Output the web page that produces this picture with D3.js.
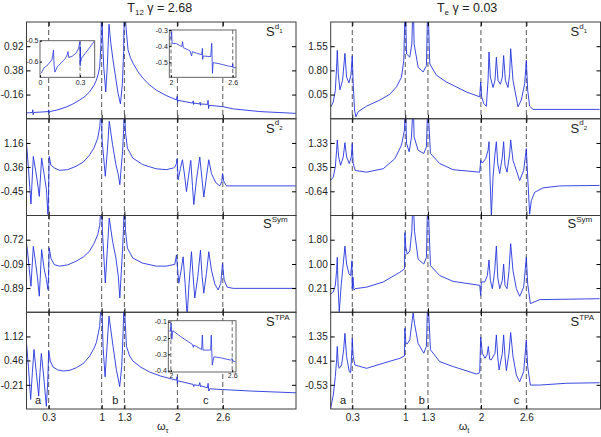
<!DOCTYPE html>
<html>
<head>
<meta charset="utf-8">
<title>S spectra T12 / Te</title>
<script src="https://d3js.org/d3.v7.min.js"></script>
<style>
body { margin: 0; background: #fff; }
text { font-family: "Liberation Sans", Arial, Helvetica, sans-serif; fill: #222; }
</style>
</head>
<body>
<script>
// ---- data ----
const omegaTicks = [0.3, 1, 1.3, 2, 2.6];
const panelNames = ["d1", "d2", "Sym", "TPA"];
const leftYTicks = [[0.92, 0.38, -0.16], [1.16, 0.36, -0.45], [0.72, -0.09, -0.89], [1.12, 0.46, -0.21]];
const rightYTicks = [[1.55, 0.80, 0.05], [1.33, 0.35, -0.64], [1.80, 1.00, 0.21], [1.35, 0.41, -0.53]];

// left column, T12, gamma = 2.68
const leftSd1 = [[0.005,-0.57],[0.05,-0.565],[0.085,-0.56],[0.09,-0.5],[0.095,-0.61],[0.1,-0.56],[0.2,-0.55],[0.295,-0.54],[0.3,-0.5],[0.305,-0.58],[0.31,-0.54],[0.4,-0.51],[0.53,-0.44],[0.62,-0.37],[0.71,-0.28],[0.78,-0.2],[0.84,-0.1],[0.9,0.05],[0.93,0.16],[0.955,0.3],[0.974,0.46],[0.99,0.95],[0.998,1.8],[1.004,1.8],[1.012,1.1],[1.027,0.46],[1.054,-0.1],[1.075,0.5],[1.097,1.41],[1.12,1.0],[1.15,0.61],[1.216,-0.13],[1.248,-0.37],[1.274,0.09],[1.29,0.8],[1.298,1.8],[1.304,1.8],[1.32,1.37],[1.348,0.84],[1.38,0.66],[1.414,0.54],[1.48,0.35],[1.547,0.2],[1.63,0.06],[1.72,-0.06],[1.85,-0.18],[1.99,-0.28],[1.998,-0.2],[2.003,-0.33],[2.01,-0.29],[2.2,-0.35],[2.21,-0.3],[2.215,-0.38],[2.22,-0.35],[2.295,-0.37],[2.3,-0.33],[2.305,-0.4],[2.31,-0.37],[2.4,-0.38],[2.405,-0.29],[2.412,-0.47],[2.42,-0.4],[2.6,-0.43],[2.74,-0.48],[3.09,-0.54],[3.565,-0.58]];
const leftSd2 = [[0.007,1.16],[0.02,0.75],[0.066,-0.87],[0.097,0.71],[0.13,0.21],[0.15,-0.12],[0.176,-0.62],[0.207,0.66],[0.24,0.11],[0.27,-0.39],[0.29,-1.22],[0.298,-0.6],[0.307,0.71],[0.33,0.42],[0.374,0.33],[0.441,0.25],[0.55,0.27],[0.66,0.38],[0.76,0.53],[0.838,0.75],[0.9,1.0],[0.948,1.32],[0.975,1.7],[0.992,2.3],[1.0,2.3],[1.004,1.32],[1.048,0.05],[1.075,0.9],[1.1,1.88],[1.144,1.1],[1.188,0.44],[1.22,0.1],[1.24,-0.23],[1.276,0.88],[1.29,1.6],[1.298,2.3],[1.303,2.3],[1.315,1.5],[1.34,0.99],[1.41,0.66],[1.54,0.44],[1.72,0.3],[1.855,0.27],[1.95,0.33],[1.966,0.36],[1.988,0.47],[1.996,0.63],[2.01,-0.07],[2.04,0.31],[2.067,0.6],[2.098,0.03],[2.12,-0.46],[2.146,0.03],[2.177,0.58],[2.2,-0.29],[2.217,-0.89],[2.252,-0.07],[2.296,0.69],[2.331,-0.18],[2.349,-0.64],[2.384,0.03],[2.415,0.6],[2.45,0.14],[2.507,-0.16],[2.56,-0.27],[2.587,-0.13],[2.596,0.14],[2.614,-0.13],[2.649,-0.27],[3.565,-0.27]];
const leftSsym = [[0.007,0.6],[0.02,0.35],[0.066,-0.83],[0.097,0.5],[0.13,-0.1],[0.15,-0.5],[0.176,-1.16],[0.207,0.39],[0.24,-0.25],[0.27,-0.6],[0.29,-0.94],[0.298,-0.5],[0.307,0.45],[0.33,0.1],[0.374,-0.11],[0.441,-0.16],[0.55,-0.12],[0.66,0.0],[0.76,0.15],[0.838,0.33],[0.9,0.6],[0.948,0.89],[0.975,1.2],[0.992,1.9],[1.0,1.9],[1.01,1.0],[1.048,-0.72],[1.075,0.4],[1.1,1.44],[1.144,0.67],[1.188,0.11],[1.22,-0.5],[1.24,-1.22],[1.276,0.4],[1.29,1.2],[1.298,1.9],[1.303,1.9],[1.315,1.0],[1.34,0.44],[1.41,0.11],[1.54,-0.06],[1.72,-0.16],[1.855,-0.16],[1.966,-0.1],[1.988,0.21],[2.019,-0.73],[2.05,-0.29],[2.076,0.15],[2.102,-0.73],[2.129,-1.83],[2.155,-0.73],[2.186,0.32],[2.208,-0.51],[2.23,-1.22],[2.27,-0.51],[2.305,0.37],[2.327,-0.51],[2.349,-1.06],[2.384,-0.4],[2.415,0.32],[2.45,-0.29],[2.494,-0.75],[2.538,-0.95],[2.574,-0.73],[2.596,-0.07],[2.618,-0.62],[2.658,-0.86],[2.737,-0.9],[3.565,-0.9]];
const leftStpa = [[0.005,0.99],[0.032,0.3],[0.062,-0.61],[0.084,0.12],[0.106,0.76],[0.137,0.12],[0.168,-0.52],[0.185,0.12],[0.203,0.65],[0.234,0.03],[0.269,-0.8],[0.287,-0.15],[0.3,0.72],[0.322,0.44],[0.357,0.28],[0.42,0.2],[0.49,0.17],[0.58,0.19],[0.666,0.26],[0.76,0.38],[0.842,0.58],[0.9,0.8],[0.93,0.95],[0.974,1.4],[0.994,2.1],[1.002,2.1],[1.018,0.85],[1.045,0.01],[1.071,0.85],[1.097,1.68],[1.15,0.85],[1.194,0.21],[1.238,-0.26],[1.265,0.3],[1.283,1.22],[1.294,2.1],[1.302,2.1],[1.309,1.59],[1.327,0.85],[1.37,0.58],[1.415,0.44],[1.52,0.27],[1.636,0.14],[1.78,0.03],[1.943,-0.06],[1.992,-0.08],[1.996,0.01],[2.0,-0.17],[2.005,-0.1],[2.208,-0.2],[2.217,-0.26],[2.222,-0.21],[2.287,-0.23],[2.296,-0.15],[2.305,-0.26],[2.31,-0.24],[2.397,-0.29],[2.406,-0.17],[2.415,-0.38],[2.428,-0.32],[2.596,-0.34],[2.957,-0.38],[3.565,-0.43]];

// right column, Te, gamma = 0.03
const rightSd1 = [[0.014,-0.35],[0.049,-0.18],[0.076,0.18],[0.093,0.9],[0.102,1.42],[0.115,0.7],[0.137,0.2],[0.172,0.49],[0.203,1.33],[0.225,0.59],[0.256,0.41],[0.282,0.65],[0.3,1.25],[0.312,0.39],[0.33,-0.43],[0.348,-0.64],[0.379,-0.48],[0.489,-0.31],[0.665,-0.12],[0.797,0.06],[0.885,0.29],[0.95,0.59],[0.981,1.11],[0.996,2.7],[1.004,2.7],[1.017,1.31],[1.06,1.21],[1.087,1.62],[1.1,2.7],[1.108,2.7],[1.117,1.62],[1.17,0.9],[1.236,0.75],[1.28,0.95],[1.295,2.7],[1.303,2.7],[1.324,1.0],[1.412,0.65],[1.544,0.44],[1.808,0.13],[1.984,-0.02],[1.997,0.44],[2.01,-0.02],[2.037,-0.23],[2.072,-0.31],[2.094,0.49],[2.107,1.37],[2.125,0.59],[2.16,0.27],[2.186,0.49],[2.204,1.21],[2.226,0.49],[2.257,0.37],[2.283,0.59],[2.3,1.26],[2.323,0.49],[2.358,0.27],[2.38,0.7],[2.393,1.47],[2.424,0.49],[2.49,-0.33],[2.534,-0.12],[2.578,0.39],[2.6,1.11],[2.618,0.18],[2.644,-0.31],[2.688,-0.41],[3.567,-0.41]];
const rightSd2 = [[0.014,-0.2],[0.049,-0.06],[0.076,0.35],[0.093,1.03],[0.102,1.45],[0.12,0.76],[0.146,0.42],[0.181,0.76],[0.203,1.34],[0.225,0.76],[0.26,0.49],[0.287,0.76],[0.3,1.31],[0.312,0.49],[0.339,0.21],[0.489,0.14],[0.709,0.28],[0.863,0.69],[0.95,1.24],[0.99,1.86],[0.997,2.7],[1.005,2.7],[1.017,1.31],[1.052,0.97],[1.083,1.58],[1.1,2.7],[1.108,2.7],[1.117,1.58],[1.17,1.03],[1.245,0.9],[1.28,1.17],[1.295,2.7],[1.303,2.7],[1.333,0.9],[1.456,0.49],[1.632,0.24],[1.984,0.14],[1.997,0.62],[2.019,0.51],[2.063,0.69],[2.094,1.03],[2.107,1.38],[2.12,-0.06],[2.138,-1.64],[2.16,-0.06],[2.186,0.9],[2.204,1.38],[2.222,0.49],[2.248,0.08],[2.283,0.76],[2.3,1.38],[2.318,0.42],[2.345,0.14],[2.38,0.9],[2.393,1.45],[2.424,0.62],[2.512,-0.2],[2.565,0.21],[2.6,1.1],[2.618,-0.06],[2.644,-1.57],[2.666,-1.02],[2.71,-0.68],[2.82,-0.5],[3.04,-0.42],[3.567,-0.4]];
const rightSsym = [[0.014,0.01],[0.049,0.08],[0.076,0.3],[0.093,0.78],[0.102,1.22],[0.111,0.35],[0.128,-0.57],[0.155,0.35],[0.181,1.0],[0.203,1.59],[0.225,1.0],[0.256,0.68],[0.278,0.62],[0.296,1.11],[0.3,0.19],[0.309,0.57],[0.322,0.14],[0.339,0.19],[0.489,0.24],[0.709,0.41],[0.929,0.73],[0.99,0.84],[0.995,2.03],[1.008,1.54],[1.026,1.32],[1.06,1.43],[1.087,2.08],[1.1,3.0],[1.108,3.0],[1.122,2.08],[1.17,1.16],[1.245,1.0],[1.28,1.22],[1.295,3.0],[1.303,3.0],[1.333,0.95],[1.456,0.62],[1.632,0.43],[1.984,0.3],[1.997,-0.03],[2.006,0.41],[2.05,0.41],[2.085,0.62],[2.107,1.13],[2.125,0.46],[2.151,0.19],[2.182,0.78],[2.204,1.59],[2.222,0.57],[2.248,0.19],[2.283,0.46],[2.3,1.0],[2.318,0.3],[2.345,0.19],[2.371,0.78],[2.393,1.67],[2.424,0.78],[2.468,0.19],[2.512,-0.06],[2.565,0.24],[2.6,1.22],[2.618,0.35],[2.653,-0.3],[2.776,-0.17],[3.567,-0.14]];
const rightStpa = [[0.014,-1.45],[0.049,-0.93],[0.076,-0.21],[0.093,0.44],[0.102,0.96],[0.115,0.24],[0.128,0.11],[0.159,0.24],[0.186,0.83],[0.203,1.47],[0.225,0.57],[0.26,-0.02],[0.278,-0.06],[0.296,0.83],[0.3,1.28],[0.312,0.57],[0.335,0.24],[0.489,0.11],[0.709,0.31],[0.929,0.5],[0.99,0.59],[0.995,1.67],[1.008,1.08],[1.026,1.06],[1.06,1.22],[1.087,1.86],[1.104,2.28],[1.122,1.86],[1.17,1.08],[1.245,0.7],[1.28,0.96],[1.295,2.7],[1.303,2.7],[1.333,0.83],[1.456,0.37],[1.632,0.18],[1.94,-0.11],[1.984,-0.06],[1.997,1.32],[2.019,0.7],[2.054,0.5],[2.081,0.63],[2.098,0.96],[2.116,0.46],[2.138,0.44],[2.186,0.7],[2.204,1.41],[2.222,0.57],[2.24,0.05],[2.283,0.7],[2.3,1.41],[2.318,0.57],[2.336,0.02],[2.371,0.7],[2.393,1.5],[2.424,0.57],[2.468,-0.15],[2.512,-0.41],[2.565,-0.02],[2.6,1.22],[2.618,0.18],[2.653,-0.54],[2.776,-0.54],[3.128,-0.47],[3.567,-0.45]];

// insets (zoomed views in the left column)
const insetLowW = [[0.01,-0.655],[0.03,-0.63],[0.06,-0.615],[0.09,-0.59],[0.098,-0.56],[0.101,-0.545],[0.106,-0.62],[0.112,-0.65],[0.13,-0.625],[0.16,-0.605],[0.19,-0.585],[0.205,-0.565],[0.21,-0.552],[0.215,-0.58],[0.24,-0.575],[0.27,-0.56],[0.29,-0.535],[0.297,-0.51],[0.3,-0.505],[0.301,-0.62],[0.303,-0.53],[0.305,-0.6],[0.31,-0.585],[0.34,-0.56],[0.37,-0.535],[0.41,-0.5]];
const insetSd1 = [[1.983,-0.362],[2.0,-0.345],[2.006,-0.31],[2.01,-0.382],[2.055,-0.385],[2.104,-0.403],[2.112,-0.372],[2.12,-0.41],[2.184,-0.428],[2.2,-0.461],[2.207,-0.434],[2.25,-0.444],[2.298,-0.453],[2.305,-0.414],[2.308,-0.482],[2.312,-0.461],[2.386,-0.465],[2.396,-0.382],[2.403,-0.568],[2.41,-0.502],[2.476,-0.51],[2.557,-0.523],[2.598,-0.527],[2.6,-0.51],[2.603,-0.535],[2.63,-0.532]];
const insetStpa = [[1.985,-0.155],[1.993,-0.161],[2.003,-0.11],[2.009,-0.208],[2.019,-0.155],[2.097,-0.192],[2.21,-0.239],[2.22,-0.257],[2.225,-0.243],[2.301,-0.27],[2.308,-0.182],[2.314,-0.274],[2.389,-0.274],[2.395,-0.182],[2.405,-0.366],[2.421,-0.315],[2.486,-0.321],[2.583,-0.335],[2.6,-0.325],[2.605,-0.34],[2.63,-0.345]];

// ---- drawing ----
const width = 601, height = 437;
const plotTop = 22, plotBottom = 409;
const ph = (plotBottom - plotTop) / 4;
const blue = "#2434dc";
const frame = "#3c3c3c";
const font = "'Liberation Sans', Arial, Helvetica, sans-serif";

const svg = d3.select("body").append("svg")
    .attr("width", width)
    .attr("height", height);

function yDomain(t) {
  const d = (t[0] - t[2]) / 2;
  return [t[2] - d, t[0] + d];
}

function noDomain(a) { a.select(".domain").remove(); a.attr("font-family", font); }

function drawColumn(col) {
  const x = d3.scaleLinear().domain(col.xDomain).range(col.xRange);
  const [xa, xb] = col.xRange;
  const g = svg.append("g");

  g.selectAll("line.guide").data(omegaTicks).join("line")
      .attr("class", "guide")
      .attr("x1", d => x(d)).attr("x2", d => x(d))
      .attr("y1", plotTop).attr("y2", plotBottom)
      .attr("stroke", "#444").attr("stroke-width", 0.9)
      .attr("stroke-dasharray", "5,3");

  col.series.forEach((data, i) => {
    const top = plotTop + i * ph;
    const y = d3.scaleLinear().domain(yDomain(col.yTicks[i])).range([top + ph, top]);
    const cid = col.id + "clip" + i;
    svg.append("clipPath").attr("id", cid).append("rect")
        .attr("x", xa).attr("y", top).attr("width", xb - xa).attr("height", ph);

    g.append("path").datum(data)
        .attr("clip-path", `url(#${cid})`)
        .attr("fill", "none").attr("stroke", blue).attr("stroke-width", 0.9)
        .attr("stroke-linejoin", "round")
        .attr("d", d3.line().x(d => x(d[0])).y(d => y(d[1])));

    g.append("rect")
        .attr("x", xa).attr("y", top).attr("width", xb - xa).attr("height", ph)
        .attr("fill", "none").attr("stroke", frame).attr("stroke-width", 1);

    g.append("g").attr("transform", `translate(${xa},0)`)
        .call(d3.axisLeft(y).tickValues(col.yTicks[i]).tickFormat(d => d.toFixed(2)).tickSize(-4).tickPadding(3))
        .call(noDomain)
        .attr("font-size", 10);
    g.append("g").attr("transform", `translate(${xb},0)`)
        .call(d3.axisRight(y).tickValues(col.yTicks[i]).tickFormat("").tickSize(-4))
        .call(noDomain);
    g.append("g").attr("transform", `translate(0,${top})`)
        .call(d3.axisTop(x).tickValues(omegaTicks).tickFormat("").tickSize(-4))
        .call(noDomain);
    g.append("g").attr("transform", `translate(0,${top + ph})`)
        .call(d3.axisBottom(x).tickValues(omegaTicks)
              .tickFormat(i === 3 ? d3.format("~g") : "").tickSize(-4).tickPadding(5))
        .call(noDomain)
        .attr("font-size", 10);

    // panel name, S with superscript
    const name = panelNames[i];
    const t = g.append("text")
        .attr("x", xb - (name === "Sym" ? 33 : 30))
        .attr("y", top + (name === "Sym" ? 12.5 : 14));
    t.append("tspan").attr("font-size", 13).text("S");
    if (name[0] === "d") {
      t.append("tspan").attr("font-size", 8).attr("dy", -7.5).text("d");
      t.append("tspan").attr("font-size", 6).attr("dy", 4.5).text(name[1]);
    } else {
      t.append("tspan").attr("font-size", 8).attr("dy", -6.5).text(name);
    }
  });

  g.selectAll("text.letter").data(["a", "b", "c"]).join("text")
      .attr("class", "letter")
      .attr("x", (d, k) => x(col.letterAt[k]))
      .attr("y", 403.5)
      .attr("text-anchor", "middle")
      .attr("font-size", 11)
      .text(d => d);

  const title = g.append("text")
      .attr("x", (xa + xb) / 2 + col.titleShift).attr("y", 11.5)
      .attr("text-anchor", "middle").attr("font-size", 12.5);
  title.append("tspan").text("T");
  title.append("tspan").attr("font-size", 8).attr("dy", 3).text(col.titleSub);
  title.append("tspan").attr("dy", -3).text(" \u03b3 = " + col.gamma);

  const xl = g.append("text")
      .attr("x", (xa + xb) / 2 + col.labelShift).attr("y", 430)
      .attr("text-anchor", "middle").attr("font-size", 11);
  xl.append("tspan").text("\u03c9");
  xl.append("tspan").attr("font-size", 7.5).attr("dy", 3).text(col.axisSub);
}

function drawInset(s) {
  const [x0, x1, y0, y1] = s.box;
  const x = d3.scaleLinear().domain(s.xDomain).range([x0, x1]);
  const y = d3.scaleLinear().domain(s.yDomain).range([y1, y0]);
  const g = svg.append("g");
  g.append("rect").attr("x", x0).attr("y", y0).attr("width", x1 - x0).attr("height", y1 - y0)
      .attr("fill", "#fff");
  const cid = s.id + "clip";
  svg.append("clipPath").attr("id", cid).append("rect")
      .attr("x", x0).attr("y", y0).attr("width", x1 - x0).attr("height", y1 - y0);
  g.selectAll("line.guide").data(s.guides).join("line")
      .attr("x1", d => x(d)).attr("x2", d => x(d))
      .attr("y1", y0).attr("y2", y1)
      .attr("stroke", "#444").attr("stroke-width", 0.8).attr("stroke-dasharray", "4,2.5");
  g.append("path").datum(s.data)
      .attr("clip-path", `url(#${cid})`)
      .attr("fill", "none").attr("stroke", blue).attr("stroke-width", 0.8)
      .attr("d", d3.line().x(d => x(d[0])).y(d => y(d[1])));
  g.append("rect").attr("x", x0).attr("y", y0).attr("width", x1 - x0).attr("height", y1 - y0)
      .attr("fill", "none").attr("stroke", "#555").attr("stroke-width", 0.9);
  g.append("g").attr("transform", `translate(${x0},0)`)
      .call(d3.axisLeft(y).tickValues(s.yTicks).tickFormat(d => String(d)).tickSize(-2).tickPadding(1.5))
      .call(noDomain).attr("font-size", 7);
  g.append("g").attr("transform", `translate(0,${y1})`)
      .call(d3.axisBottom(x).tickValues(s.xTicks).tickFormat(d3.format("~g")).tickSize(-2).tickPadding(s.xPad))
      .call(noDomain).attr("font-size", 7);
}

drawColumn({
  id: "L", xDomain: [0.007, 3.567], xRange: [26.5, 296],
  yTicks: leftYTicks, series: [leftSd1, leftSd2, leftSsym, leftStpa],
  letterAt: [0.16, 1.18, 2.375], titleSub: "12", gamma: "2.68", titleShift: -1.5,
  axisSub: "\u03c4", labelShift: 1.5
});
drawColumn({
  id: "R", xDomain: [0.015, 3.58], xRange: [330.7, 600.5],
  yTicks: rightYTicks, series: [rightSd1, rightSd2, rightSsym, rightStpa],
  letterAt: [0.18, 1.22, 2.47], titleSub: "e", gamma: "0.03", titleShift: 1.5,
  axisSub: "t", labelShift: -1.5
});

drawInset({ id: "ia", box: [40, 94.7, 40.7, 77.3], xDomain: [0, 0.41], yDomain: [-0.675, -0.5],
  xTicks: [0, 0.3], yTicks: [-0.5, -0.6], guides: [0.3], data: insetLowW, xPad: 3 });
drawInset({ id: "ib", box: [169.3, 236, 30, 77.3], xDomain: [1.983, 2.632], yDomain: [-0.593, -0.3],
  xTicks: [2, 2.6], yTicks: [-0.3, -0.4, -0.5], guides: [2, 2.6], data: insetSd1, xPad: 3 });
drawInset({ id: "ic", box: [168.3, 236, 320.7, 372], xDomain: [1.975, 2.637], yDomain: [-0.408, -0.094],
  xTicks: [2, 2.6], yTicks: [-0.1, -0.2, -0.3, -0.4], guides: [2, 2.6], data: insetStpa, xPad: 1 });
</script>
</body>
</html>
